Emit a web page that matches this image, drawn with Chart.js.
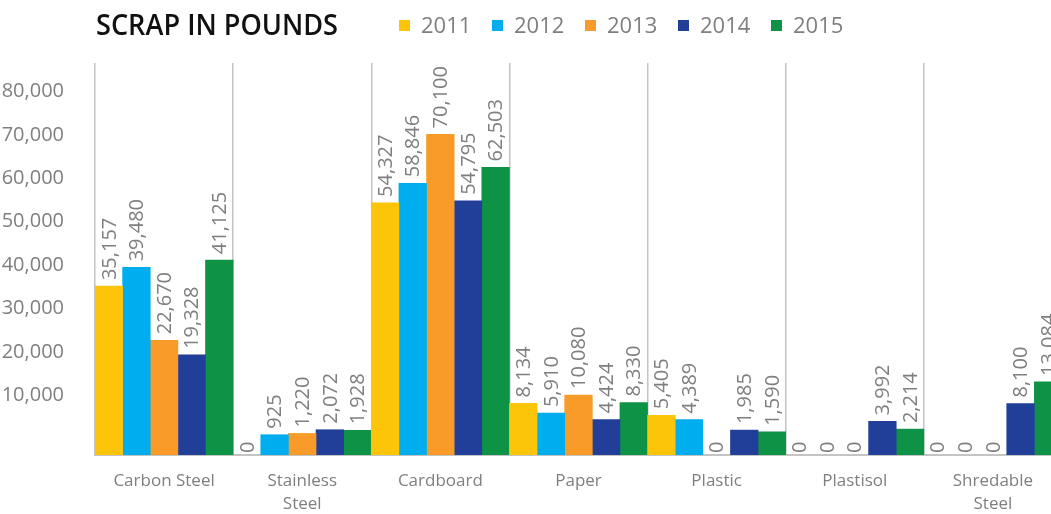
<!DOCTYPE html>
<html>
<head>
<meta charset="utf-8">
<script src="https://cdn.jsdelivr.net/npm/chart.js@4"></script>
<style>
  html, body { margin: 0; padding: 0; background: #fff; overflow: hidden; width: 1051px; height: 514px; }
  canvas { display: block; }
</style>
</head>
<body>
<canvas id="myChart" width="1070" height="514"></canvas>
<script>
var ctx = document.getElementById('myChart').getContext('2d');

// ************************ data ************************
var categorias = [['Carbon Steel'], ['Stainless', 'Steel'], 'Cardboard', 'Paper', 'Plastic', 'Plastisol', ['Shredable', 'Steel']];
var anos = ['2011', '2012', '2013', '2014', '2015'];
var v2011 = [35157, 0, 54327, 8134, 5405, 0, 0];
var v2012 = [39480, 925, 58846, 5910, 4389, 0, 0];
var v2013 = [22670, 1220, 70100, 10080, 0, 0, 0];
var v2014 = [19328, 2072, 54795, 4424, 1985, 3992, 8100];
var v2015 = [41125, 1928, 62503, 8330, 1590, 2214, 13084];
var yTicks = [10000, 20000, 30000, 40000, 50000, 60000, 70000, 80000];

var cores = ['#FCC50A', '#00ADEE', '#F89B28', '#213F99', '#0E9346'];
var cinza = '#7f7f7f';
var piso = -3750; // bars in the original sit a bit below the zero of the tick scale

var series = [v2011, v2012, v2013, v2014, v2015];

const datasets = series.map(function (vals, i) {
    return {
        label: anos[i],
        data: vals,
        base: piso,
        backgroundColor: function (c) { return c.raw === 0 ? 'rgba(0,0,0,0)' : cores[i]; },
        borderWidth: 0,
        barPercentage: 1,
        categoryPercentage: 1
    };
});

// title + legend on one line
const tituloLegenda = {
    id: 'tituloLegenda',
    afterDraw(chart) {
        const c = chart.ctx;
        c.save();
        c.fillStyle = '#111';
        c.font = "600 29px 'Open Sans'";
        c.textBaseline = 'alphabetic';
        const txt = 'SCRAP IN POUNDS';
        const w = c.measureText(txt).width;
        c.translate(96, 35);
        c.scale(242 / w, 1);
        c.fillText(txt, 0, 0);
        c.restore();

        c.save();
        c.font = "22px 'Open Sans'";
        c.textBaseline = 'alphabetic';
        chart.data.datasets.forEach(function (ds, i) {
            const x = 399 + i * 93;
            c.fillStyle = cores[i];
            c.fillRect(x, 20, 11, 11);
            c.fillStyle = cinza;
            c.fillText(ds.label, x + 22, 33);
        });
        c.restore();
    }
};

// rotated value labels over the bars
const rotulosBarras = {
    id: 'rotulosBarras',
    afterDatasetsDraw(chart) {
        const c = chart.ctx;
        c.save();
        c.font = "20px 'Open Sans'";
        c.fillStyle = cinza;
        c.textAlign = 'left';
        c.textBaseline = 'middle';
        chart.data.datasets.forEach(function (ds, i) {
            chart.getDatasetMeta(i).data.forEach(function (bar, j) {
                const v = ds.data[j];
                const y = v === 0 ? bar.base - 2 : bar.y - 6;
                c.save();
                c.translate(bar.x + 1, y);
                c.rotate(-Math.PI / 2);
                c.fillText(v.toLocaleString('en-US'), 0, 0);
                c.restore();
            });
        });
        c.restore();
    }
};

const opcoes = {
    responsive: false,
    animation: false,
    devicePixelRatio: 1,
    layout: { padding: { top: 63, right: 8, left: 0, bottom: 0 } },
    plugins: {
        legend: { display: false },
        title: { display: false },
        tooltip: { enabled: false }
    },
    scales: {
        x: {
            offset: true,
            grid: { offset: true, color: '#c4c4c4', lineWidth: 1.5, drawTicks: false },
            border: { display: true, color: '#c4c4c4', width: 2 },
            ticks: {
                color: cinza,
                font: { family: 'Open Sans', size: 17, lineHeight: 1.35 },
                padding: 15,
                maxRotation: 0,
                autoSkip: false
            },
            afterFit: function (s) { s.height = 59; }
        },
        y: {
            min: piso,
            max: 86550,
            grid: { display: false },
            border: { display: false },
            afterBuildTicks: function (s) { s.ticks = yTicks.map(function (v) { return { value: v }; }); },
            ticks: {
                color: cinza,
                font: { family: 'Open Sans', size: 20 },
                padding: 23,
                callback: function (v) { return v.toLocaleString('en-US'); }
            },
            afterFit: function (s) { s.width = 95; }
        }
    }
};

var myChart = new Chart(ctx, {
    type: 'bar',
    data: { labels: categorias, datasets: datasets },
    options: opcoes,
    plugins: [tituloLegenda, rotulosBarras]
});
</script>
</body>
</html>
